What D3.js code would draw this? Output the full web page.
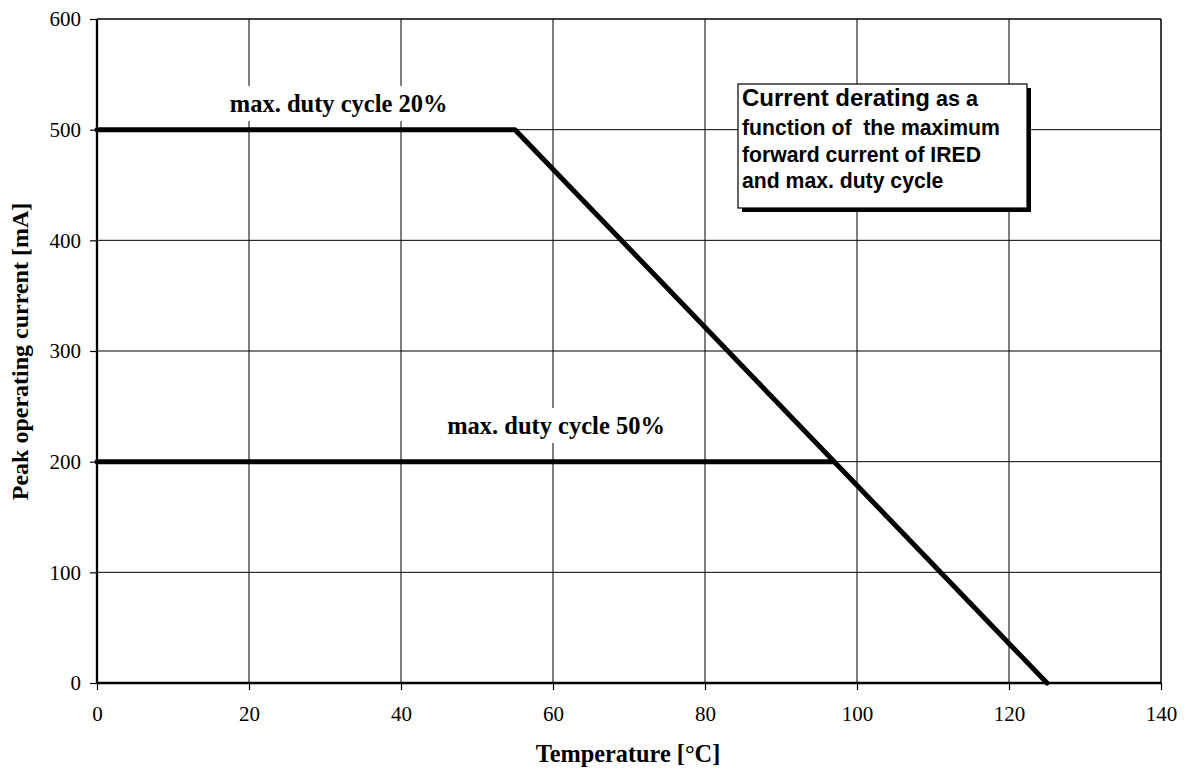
<!DOCTYPE html>
<html><head><meta charset="utf-8">
<script src="https://cdn.jsdelivr.net/npm/d3@7/dist/d3.min.js"></script>
<style>body{margin:0;background:#fff}svg{display:block}</style>
</head><body>
<svg id="c" width="1187" height="769"></svg>
<script>
const xTicks = [0,20,40,60,80,100,120,140];
const yTicks = [0,100,200,300,400,500,600];
const curve20 = [{t:0,i:500},{t:55,i:500},{t:125,i:0}];
const curve50 = [{t:0,i:200},{t:97,i:200}];
const labelTexts = ["max. duty cycle 20%","max. duty cycle 50%"];
const labelAnchors = [{t:31.8,i:516},{t:60.4,i:225}];
const noteLines = [["Current derating"," as a"],["function of  the maximum"],["forward current of IRED"],["and max. duty cycle"]];

const svg = d3.select("#c");
const L=97,R=1161,T=19,B=683;
const x = d3.scaleLinear().domain([0,140]).range([L,R]);
const y = d3.scaleLinear().domain([0,600]).range([B,T]);
const serif = "'Liberation Serif','Times New Roman',serif";
const sans = "'Liberation Sans',Arial,sans-serif";

// grid
svg.append("g").selectAll("line").data(xTicks.slice(1,-1)).join("line")
  .attr("x1",d=>x(d)).attr("x2",d=>x(d)).attr("y1",T).attr("y2",B)
  .attr("stroke","#000").attr("stroke-width",1);
svg.append("g").selectAll("line").data(yTicks.slice(1,-1)).join("line")
  .attr("x1",L).attr("x2",R).attr("y1",d=>y(d)).attr("y2",d=>y(d))
  .attr("stroke","#000").attr("stroke-width",1);
// border
svg.append("line").attr("x1",L).attr("x2",R).attr("y1",T).attr("y2",T).attr("stroke","#000").attr("stroke-width",1.5);
svg.append("line").attr("x1",R).attr("x2",R).attr("y1",T).attr("y2",B).attr("stroke","#000").attr("stroke-width",1.5);

// axes
const xa = svg.append("g").attr("transform",`translate(0,${B})`)
  .call(d3.axisBottom(x).tickValues(xTicks).tickSize(7).tickPadding(16).tickFormat(d3.format("d")));
const ya = svg.append("g").attr("transform",`translate(${L},0)`)
  .call(d3.axisLeft(y).tickValues(yTicks).tickSize(7).tickPadding(9).tickFormat(d3.format("d")));
[xa,ya].forEach(a=>{
  a.attr("font-family",serif).attr("font-size",21);
  a.select(".domain").attr("stroke","#000").attr("stroke-width",2.3);
  a.selectAll(".tick line").attr("stroke","#000").attr("stroke-width",1.2);
  a.selectAll(".tick text").attr("fill","#000").style("font-family",serif).style("font-size","21px");
});
xa.select(".domain").attr("d",`M${L},0H${R}`);
ya.select(".domain").attr("d",`M0,${T}V${B}`);

// lines
const line = d3.line().x(d=>x(d.t)).y(d=>y(d.i));
[curve50,curve20].forEach(c=>{
  svg.append("path").datum(c).attr("d",line).attr("fill","none")
    .attr("stroke","#000").attr("stroke-width",5).attr("stroke-linejoin","round").attr("stroke-linecap","round");
});

// labels with white bg
labelTexts.forEach((txt,k)=>{
  const a = labelAnchors[k];
  const g = svg.append("g");
  const rect = g.append("rect").attr("fill","#fff");
  const t = g.append("text").attr("x",x(a.t)).attr("y",y(a.i)).attr("text-anchor","middle")
    .attr("font-family",serif).attr("font-weight","bold")
    .style("font-size","24.5px").attr("fill","#000").text(txt);
  const bb = t.node().getBBox();
  rect.attr("x",bb.x-6).attr("y",bb.y-4).attr("width",bb.width+12).attr("height",bb.height+8);
});

// note box
const bx=738,by=84,bw=289,bh=124;
svg.append("rect").attr("x",bx+4).attr("y",by+4).attr("width",bw).attr("height",bh).attr("fill","#000");
svg.append("rect").attr("x",bx).attr("y",by).attr("width",bw).attr("height",bh).attr("fill","#fff").attr("stroke","#000").attr("stroke-width",1.2);
const nt = svg.append("text").attr("font-family",sans).attr("font-weight","bold").attr("fill","#000").style("white-space","pre");
const baselines = [106,135,162,188];
noteLines.forEach((ln,i)=>{
  const tl = nt.append("tspan").attr("x",bx+4).attr("y",baselines[i]);
  if(i===0){
    tl.style("font-size","24px").text(ln[0]);
    nt.append("tspan").style("font-size","21.5px").text(ln[1]);
  } else tl.style("font-size","21.2px").text(ln[0]);
});

// axis titles
svg.append("text").attr("x",628).attr("y",762).attr("text-anchor","middle")
  .attr("font-family",serif).attr("font-weight","bold").style("font-size","24.3px").text("Temperature [°C]");
svg.append("text").attr("transform",`translate(28,351.5) rotate(-90)`).attr("text-anchor","middle")
  .attr("font-family",serif).attr("font-weight","bold").style("font-size","24px").text("Peak operating current [mA]");
</script>
</body></html>
